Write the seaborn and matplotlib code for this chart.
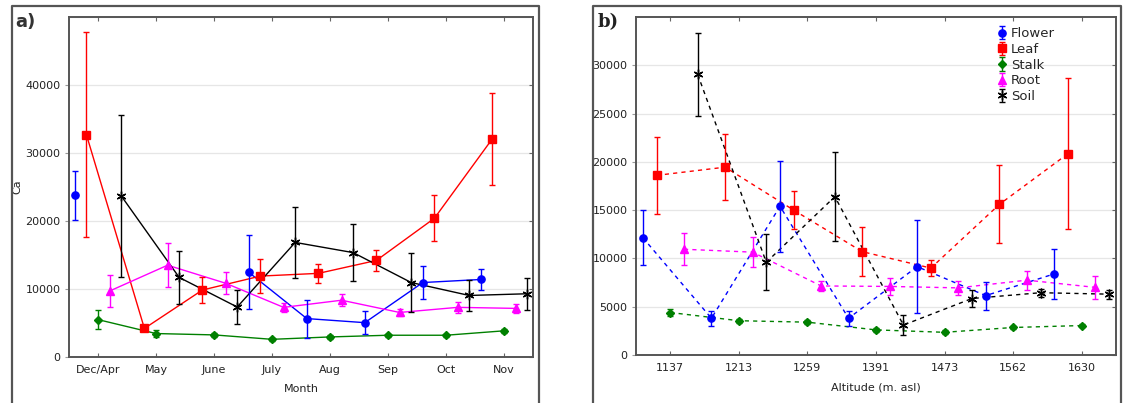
import numpy as np
import pandas as pd
import matplotlib
matplotlib.use("Agg")
import matplotlib.pyplot as plt
from matplotlib.lines import Line2D
import seaborn as sns

# ---- data -------------------------------------------------------------
tissues = ["Flower", "Leaf", "Stalk", "Root", "Soil"]

months = ["Dec/Apr", "May", "June", "July", "Aug", "Sep", "Oct", "Nov"]
month_flower = [23800, np.nan, np.nan, 12450, 5650, 5050, 10950, 11400]
month_flower_err = [3600, np.nan, np.nan, 5450, 2800, 1650, 2400, 1600]
month_leaf = [32700, 4200, 9850, 11900, 12300, 14200, 20400, 32100]
month_leaf_err = [15100, 250, 1850, 2450, 1450, 1500, 3400, 6750]
month_stalk = [5500, 3450, 3250, 2600, 2950, 3200, 3200, 3850]
month_stalk_err = [1400, 500, 250, 250, 250, 250, 250, 300]
month_root = [9700, 13500, 10850, 7300, 8350, 6550, 7300, 7150]
month_root_err = [2350, 3200, 1650, 700, 900, 500, 800, 700]
month_soil = [23700, 11700, 7350, 16850, 15350, 10950, 9050, 9300]
month_soil_err = [11900, 3900, 2500, 5200, 4150, 4350, 2250, 2350]

altitudes = ["1137", "1213", "1259", "1391", "1473", "1562", "1630"]
alt_flower = [12150, 3800, 15400, 3800, 9150, 6150, 8400]
alt_flower_err = [2850, 750, 4700, 750, 4800, 1450, 2600]
alt_leaf = [18600, 19450, 15000, 10700, 9000, 15600, 20850]
alt_leaf_err = [3950, 3400, 2000, 2550, 850, 4050, 7850]
alt_stalk = [4400, 3550, 3400, 2600, 2350, 2850, 3050]
alt_stalk_err = [400, 200, 200, 200, 200, 200, 200]
alt_root = [10950, 10650, 7150, 7100, 6950, 7750, 7000]
alt_root_err = [1650, 1550, 500, 850, 700, 1000, 1150]
alt_soil = [29050, 9600, 16400, 3100, 5850, 6450, 6300]
alt_soil_err = [4250, 2900, 4600, 1000, 850, 400, 450]

# ---- styling ----------------------------------------------------------
colors = {"Flower": "#0000FF", "Leaf": "#FF0000", "Stalk": "#008000",
          "Root": "#FF00FF", "Soil": "#000000"}
markers = {"Flower": "o", "Leaf": "s", "Stalk": "D", "Root": "^", "Soil": (6, 2, 0)}
msizes = {"Flower": 5.2, "Leaf": 5.5, "Stalk": 4.5, "Root": 6, "Soil": 7}
offsets = {"Flower": -0.4, "Leaf": -0.2, "Stalk": 0.0, "Root": 0.2, "Soil": 0.4}

sns.set_theme(style="white")
plt.rcParams["font.family"] = ["DejaVu Sans"]
plt.rcParams["font.size"] = 8

W, H = 1128, 403
fig = plt.figure(figsize=(W / 100, H / 100), dpi=100)


def px_axes(left, top, right, bottom):
    return fig.add_axes([left / W, 1 - bottom / H, (right - left) / W, (bottom - top) / H])


def long_frame(series, errors):
    rows = []
    for name in tissues:
        seg = 0
        prev_nan = True
        for i, (v, e) in enumerate(zip(series[name], errors[name])):
            if np.isnan(v):
                prev_nan = True
                continue
            if prev_nan:
                seg += 1
                prev_nan = False
            rows.append({"tissue": name, "x": i + offsets[name], "y": v,
                         "err": e, "seg": f"{name}{seg}"})
    return pd.DataFrame(rows)


def draw_panel(ax, cats, series, errors, ymax, yticks, linestyle):
    df = long_frame(series, errors)
    sns.lineplot(data=df, x="x", y="y", hue="tissue", units="seg", estimator=None,
                 sort=False, palette=colors, hue_order=tissues, legend=False,
                 linewidth=1.0, linestyle=linestyle, ax=ax, zorder=2)
    handles = []
    for name in tissues:
        d = df[df["tissue"] == name]
        h = ax.errorbar(d["x"].to_numpy(), d["y"].to_numpy(), yerr=d["err"].to_numpy(),
                        fmt="", marker=markers[name], linestyle="none",
                        color=colors[name], ecolor=colors[name], elinewidth=1.0,
                        capsize=2, capthick=0.8, markersize=msizes[name],
                        markeredgewidth=1.0, zorder=3, label=name)
        handles.append(h)
    ax.set_xlim(-0.5, len(cats) - 0.5)
    ax.set_ylim(0, ymax)
    ax.set_xticks(range(len(cats)))
    ax.set_xticklabels(cats)
    ax.set_yticks(yticks)
    ax.set_yticklabels([str(t) for t in yticks])
    ax.set_xlabel("")
    ax.set_ylabel("")
    for t in yticks[1:]:
        ax.axhline(t, color="#e6e6e6", lw=0.9, zorder=0)
    for s in ax.spines.values():
        s.set_color("#555555")
        s.set_linewidth(1.4)
    ax.tick_params(axis="x", direction="in", length=3, width=0.8, color="#666666",
                   top=True, bottom=True, labelsize=8, labelcolor="#222222", pad=6)
    ax.tick_params(axis="y", direction="out", length=3, width=0.8, color="#999999",
                   left=True, labelsize=8, labelcolor="#222222", pad=3)
    sec = ax.secondary_yaxis("right")
    sec.set_yticks(yticks)
    sec.tick_params(direction="in", length=3, width=0.8, color="#666666", labelright=False)
    sec.spines["right"].set_visible(False)
    return handles


# ---- panel a: by month ------------------------------------------------
ax_a = px_axes(69, 17, 533, 357)
draw_panel(ax_a, months,
           {"Flower": month_flower, "Leaf": month_leaf, "Stalk": month_stalk,
            "Root": month_root, "Soil": month_soil},
           {"Flower": month_flower_err, "Leaf": month_leaf_err, "Stalk": month_stalk_err,
            "Root": month_root_err, "Soil": month_soil_err},
           50000, [0, 10000, 20000, 30000, 40000], "-")
ax_a.axhline(50000, color="#e6e6e6", lw=0.9, zorder=0)
ax_a.set_ylabel("Ca", fontsize=8, color="#222222")
ax_a.yaxis.set_label_coords(-0.1, 0.5)
ax_a.set_xlabel("Month", fontsize=8, color="#222222")
ax_a.xaxis.set_label_coords(0.5, -0.078)

# ---- panel b: by altitude ---------------------------------------------
ax_b = px_axes(636, 17, 1116, 355)
hb = draw_panel(ax_b, altitudes,
                {"Flower": alt_flower, "Leaf": alt_leaf, "Stalk": alt_stalk,
                 "Root": alt_root, "Soil": alt_soil},
                {"Flower": alt_flower_err, "Leaf": alt_leaf_err, "Stalk": alt_stalk_err,
                 "Root": alt_root_err, "Soil": alt_soil_err},
                35000, [0, 5000, 10000, 15000, 20000, 25000, 30000], (0, (3, 3)))
ax_b.set_xlabel("Altitude (m. asl)", fontsize=8, color="#222222")
ax_b.xaxis.set_label_coords(0.5, -0.08)
ax_b.legend(handles=hb, labels=tissues, loc="upper left",
            bbox_to_anchor=(0.74, 0.985), frameon=False, fontsize=9.5,
            handlelength=0.9, handletextpad=0.2, labelspacing=0.2,
            borderaxespad=0.0)

# ---- panel frames and letters -----------------------------------------
for x0, x1 in [(12, 539), (593, 1121)]:
    xs = [x0 / W, x0 / W, x1 / W, x1 / W]
    ys = [0, 1 - 6 / H, 1 - 6 / H, 0]
    fig.add_artist(Line2D(xs, ys, transform=fig.transFigure, color="#555555", lw=1.6))

fig.text(15 / W, 1 - 22 / H, "a)", fontsize=13, fontweight="bold",
         color="#333333", va="center", ha="left")
fig.text(598 / W, 1 - 22 / H, "b)", fontsize=13, fontweight="bold",
         family="DejaVu Serif", color="#222222", va="center", ha="left")

fig.savefig("out.png", dpi=100)
